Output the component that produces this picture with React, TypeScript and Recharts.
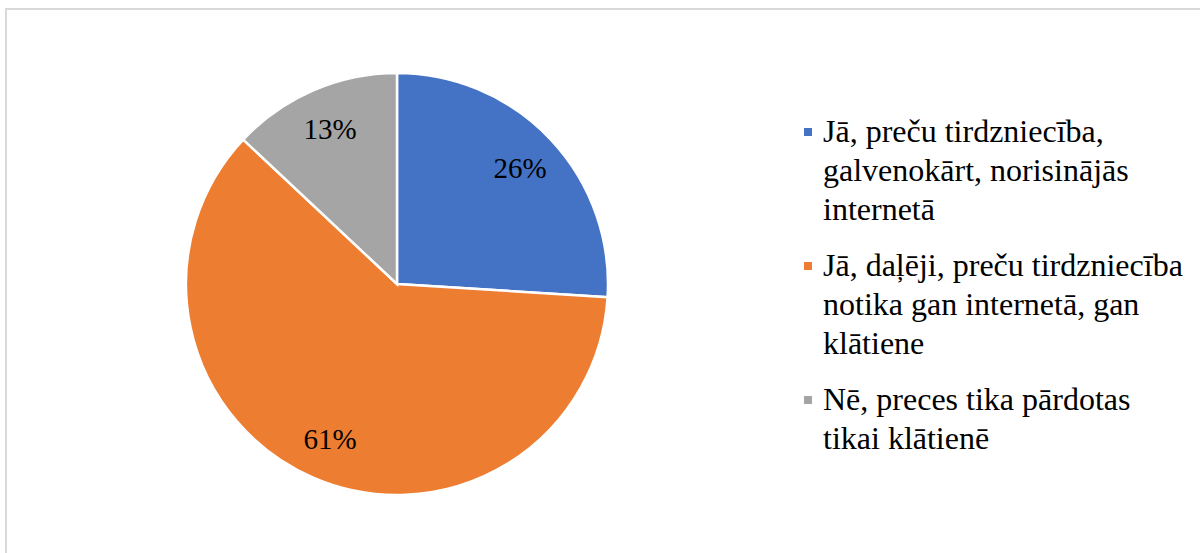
import React from "react";
import { PieChart, Pie, Cell, Legend } from "recharts";

const categories = [
  "Jā, preču tirdzniecība, galvenokārt, norisinājās internetā",
  "Jā, daļēji, preču tirdzniecība notika gan internetā, gan klātiene",
  "Nē, preces tika pārdotas tikai klātienē",
];
const shares = [26, 61, 13];
const colors = ["#4472C4", "#ED7D31", "#A5A5A5"];

const data = categories.map((name, i) => ({ name, value: shares[i] }));

const FONT = "Liberation Serif";
const RAD = Math.PI / 180;

function renderLabel(props: any) {
  const { cx, cy, midAngle, outerRadius, percent } = props;
  const r = outerRadius * 0.8;
  const x = cx + r * Math.cos(-midAngle * RAD);
  const y = cy + r * Math.sin(-midAngle * RAD);
  return (
    <text
      x={x}
      y={y}
      textAnchor="middle"
      dominantBaseline="central"
      fill="#000"
      style={{ fontFamily: FONT, fontSize: 29 }}
    >
      {`${Math.round(percent * 100)}%`}
    </text>
  );
}

function LegendBox() {
  return (
    <div style={{ fontFamily: FONT, fontSize: 32, lineHeight: "39px", color: "#000", width: 385 }}>
      {data.map((d, i) => (
        <div key={d.name} style={{ display: "flex", marginBottom: i < data.length - 1 ? 17 : 0 }}>
          <span
            style={{
              width: 8,
              height: 8,
              background: colors[i],
              marginTop: 16,
              marginLeft: 2,
              marginRight: 11,
              flexShrink: 0,
            }}
          />
          <span style={{ width: 361 }}>{d.name}</span>
        </div>
      ))}
    </div>
  );
}

export default function App() {
  return (
    <div
      style={{
        position: "fixed",
        left: 0,
        top: 0,
        width: 1200,
        height: 553,
        background: "#fff",
        overflow: "hidden",
        fontFamily: FONT,
      }}
    >
      <div
        style={{
          position: "absolute",
          left: 5,
          top: 8,
          width: 1300,
          height: 700,
          border: "2px solid #D9D9D9",
          boxSizing: "border-box",
        }}
      />
      <div style={{ position: "absolute", left: 0, top: 0 }}>
        <PieChart width={1200} height={553}>
          <Pie
            data={data}
            dataKey="value"
            nameKey="name"
            cx={392}
            cy={279}
            outerRadius={211}
            startAngle={90}
            endAngle={-270}
            stroke="#fff"
            strokeWidth={2.5}
            label={renderLabel}
            labelLine={false}
            isAnimationActive={false}
          >
            {data.map((d, i) => (
              <Cell key={d.name} fill={colors[i]} />
            ))}
          </Pie>
          <Legend
            content={() => <LegendBox />}
            wrapperStyle={{ position: "absolute", left: 802, top: 112, width: 385 }}
          />
        </PieChart>
      </div>
    </div>
  );
}
